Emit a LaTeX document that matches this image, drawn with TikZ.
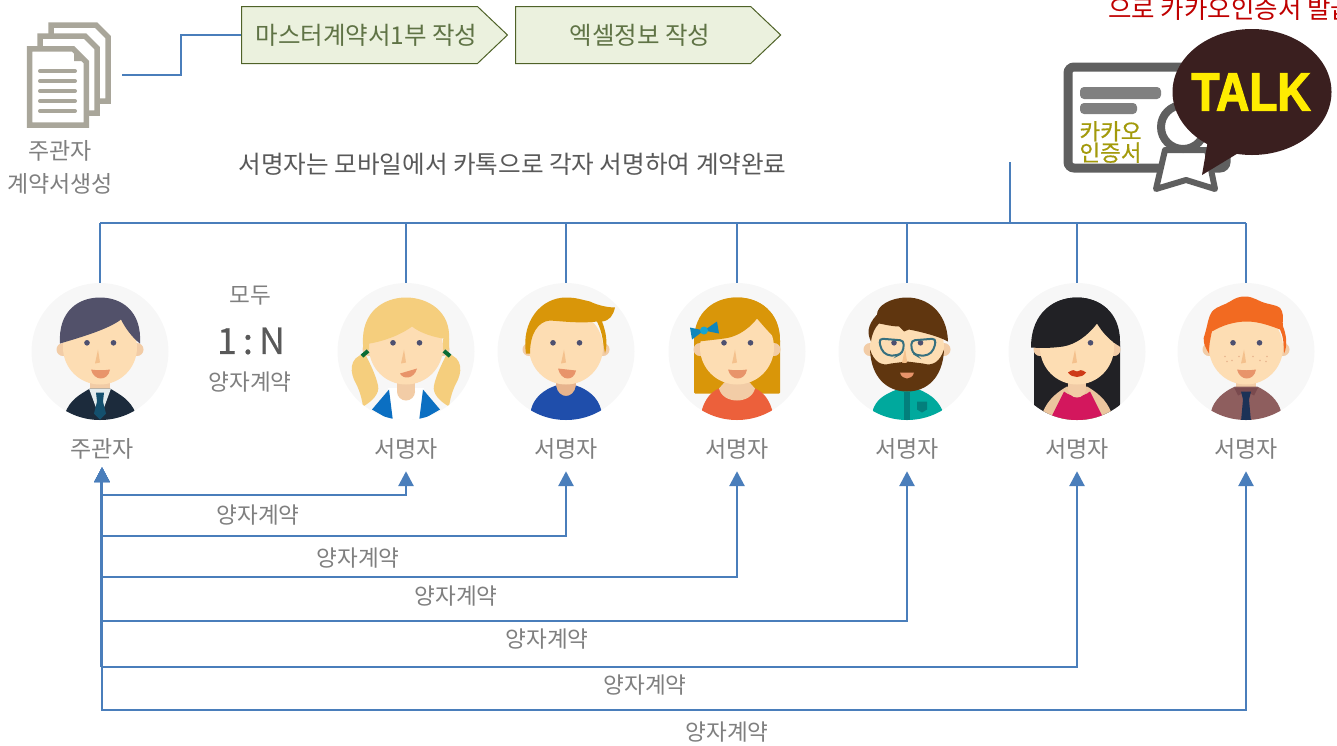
\documentclass[tikz,border=0pt]{standalone}
\usepackage{fontspec}
\setmainfont{Noto Sans CJK KR}
\newfontfamily\talkfont[FakeBold=2.5]{Liberation Sans Bold}
\newfontfamily\certfont[FakeBold=0.6]{Noto Sans CJK KR}
\newfontfamily\ratiofont[FakeBold=0.5]{Noto Sans CJK KR}
\usepackage{graphicx}
\usetikzlibrary{shapes.geometric}
\usetikzlibrary{shapes.symbols}
\usetikzlibrary{arrows.meta}
\usetikzlibrary{positioning}

\definecolor{wireblue}{HTML}{4A7EBB}
\definecolor{greytxt}{HTML}{7F7F7F}
\definecolor{darktxt}{HTML}{595959}
\definecolor{stepfill}{HTML}{EBF1DE}
\definecolor{stepline}{HTML}{4F6228}
\definecolor{steptxt}{HTML}{5F7345}
\definecolor{docgrey}{HTML}{A9A69A}
\definecolor{certgrey}{HTML}{5F5F5F}
\definecolor{certtxtc}{HTML}{A39A0B}
\definecolor{talkbrown}{HTML}{3A1F1F}
\definecolor{talkyellow}{HTML}{FFEC00}
\definecolor{skin}{HTML}{FDDDB3}
\definecolor{skindark}{HTML}{F2CCA6}
\definecolor{skinneck}{HTML}{E7B48D}
\definecolor{skinbare}{HTML}{EBC59E}
\definecolor{mouthc}{HTML}{E8946A}
\definecolor{eyec}{HTML}{4D5070}
\definecolor{suitc}{HTML}{1C2B3C}
\definecolor{shirtc}{HTML}{E4ECEE}
\definecolor{tiec}{HTML}{14506E}
\definecolor{hostHair}{HTML}{52516A}
\definecolor{blondc}{HTML}{F5CE7D}
\definecolor{collarc}{HTML}{0B6FC2}
\definecolor{bandc}{HTML}{0B6B35}
\definecolor{amberc}{HTML}{D99609}
\definecolor{navyc}{HTML}{1F4EAB}
\definecolor{coralc}{HTML}{EC603B}
\definecolor{bowc}{HTML}{0F86BB}
\definecolor{bowmid}{HTML}{16A5D2}
\definecolor{tealc}{HTML}{00A99D}
\definecolor{tealdark}{HTML}{037F7C}
\definecolor{beardc}{HTML}{60360F}
\definecolor{glassc}{HTML}{36707F}
\definecolor{blackhair}{HTML}{212125}
\definecolor{dressc}{HTML}{D3175D}
\definecolor{lipc}{HTML}{CE3A17}
\definecolor{mauvec}{HTML}{8E5E5E}
\definecolor{mauvedark}{HTML}{7A4A4E}
\definecolor{tienavy}{HTML}{1C3257}
\definecolor{frecklec}{HTML}{E8B48E}
\definecolor{redhair}{HTML}{F26A21}

\newcommand{\facebase}{
  \fill[skindark] (-37,-2) circle (6.5);
  \fill[skindark] (37,-2) circle (6.5);
  \fill[skin] (0,-4) circle (37);
  \fill[eyec] (-13,-8.7) circle (2.8);
  \fill[eyec] (13.5,-8.7) circle (2.8);
  \fill[skindark!85!orange] (-2,-2) -- (-5,12) -- (0,11) -- cycle;
}
\newcommand{\mouthopen}{
  \fill[mouthc] (-9,18) .. controls (-3,19) and (4,19) .. (10,18) .. controls (8,30) and (-6,30) .. (-9,18) -- cycle;
}

\begin{document}
\begin{tikzpicture} [
    x=1pt, y=-1pt,
    wire/.style     = { draw=wireblue, line width=2pt },
    link/.style     = { draw=wireblue, line width=2.8pt,
                        {Triangle[length=15pt,width=15pt]}-{Triangle[length=15pt,width=15pt]} },
    stepbox/.style  = { signal, signal to=east, signal pointer angle=87,
                        draw=stepline, line width=1pt, fill=stepfill, text=steptxt,
                        minimum width=265pt, minimum height=57pt, inner sep=0pt,
                        execute at begin node={\hspace*{14pt}},
                        font=\fontsize{24.5}{28}\selectfont },
    avatar/.style   = { circle, fill=black!3, minimum size=137pt, inner sep=0pt },
    who/.style      = { text=greytxt, minimum height=44pt, inner sep=0pt,
                        font=\fontsize{23}{26}\selectfont },
    deal/.style     = { text=greytxt, inner sep=0pt, font=\fontsize{22.6}{26}\selectfont },
    docpage/.style  = { draw=docgrey, line width=5.5pt, fill=white, line join=miter },
    docline/.style  = { draw=docgrey, line width=4pt, line cap=round },
  ]
\useasboundingbox (0,0) rectangle (1337,745);

% document stack
\draw [docpage] (51,46) -- (51,25) -- (96,25) -- (108,37) -- (108,101) -- (90,101);
\draw [docpage] (40,60) -- (40,36) -- (85,36) -- (97,48) -- (97,113) -- (80,113);
\draw [docpage] (29.5,48.8) -- (73,48.8) -- (86.3,62) -- (86.3,125) -- (29.5,125) -- cycle;
\fill [docgrey] (74,49) -- (74,61) -- (86,61) -- cycle;
\foreach \ypos in {71,81,91,101,111}
  \draw [docline] (40,\ypos) -- (75,\ypos);
\coordinate (docout) at (122,75);
\node [deal, font=\fontsize{23}{26}\selectfont] (doctop) at (60,151) {주관자};
\node [deal, font=\fontsize{23}{26}\selectfont] (docbot) at (60,184) {계약서생성};

% process steps
\node [stepbox, anchor=west] (draft) at (241,35) {마스터계약서1부 작성};
\node [stepbox, right=7pt of draft] (excel) {엑셀정보 작성};
\draw [wire] (docout) --++ (59,0) |- (draft.west);

\node [text=darktxt, inner sep=0pt, font=\fontsize{24.6}{28}\selectfont] (note) at (512.5,164)
  {서명자는 모바일에서 카톡으로 각자 서명하여 계약완료};
\node [text=red!75!black, inner sep=0pt, anchor=west, font=\fontsize{25.5}{28}\selectfont] (issue) at (1108,9)
  {으로 카카오인증서 발급};

% certificate
\draw [draw=certgrey, line width=9pt, rounded corners=6pt, fill=white] (1068,67) rectangle (1226,168);
\fill [black!50, rounded corners=4pt] (1080,87) rectangle (1161,99);
\fill [black!50, rounded corners=4pt] (1080,103) rectangle (1137,114);
\node [text=certtxtc, inner sep=0pt, align=center,
       font=\fontsize{22.5}{20}\certfont] (certtxt) at (1110.5,142) {카카오\\인증서};
\draw [draw=certgrey, line width=6pt, line join=round, fill=white]
  (1165,150) -- (1156,189) -- (1186,180) -- (1215,189) -- (1207,150) -- cycle;
\draw [draw=certgrey, line width=8pt, fill=white] (1183,127) circle (22);
\coordinate (certout) at (1010,162);

% kakao bubble
\fill [talkbrown] (1208,140) -- (1202,175) -- (1240,152) -- cycle;
\node [ellipse, fill=talkbrown, minimum width=159pt, minimum height=126pt, inner sep=0pt] (talk) at (1252,92) {};
\node [text=talkyellow, inner sep=0pt] (talktxt) at (1251,92)
  {\scalebox{1}[1.17]{\fontsize{46}{46}\talkfont TALK}};

% people
\foreach \who/\xpos in {host/100,sign1/406,sign2/566,sign3/737,sign4/907,sign5/1077,sign6/1246}
  \node [avatar] (\who) at (\xpos,351.5) {};
\node [who] (host-txt) at (102,449) {주관자};
\foreach \who/\xpos in {sign1/406,sign2/566,sign3/737,sign4/907,sign5/1077,sign6/1246}
  \node [who] (\who-txt) at (\xpos,449) {서명자};
\coordinate (hosttip) at ([yshift=4pt]host-txt.south);

\begin{scope}[shift={(host)}]
  \clip (0,0) circle (68.5);
  \fill[skindark] (-10,28) rectangle (10,42);
  \fill[suitc] (-35,62) .. controls (-30,48) and (-20,43) .. (-10,37) -- (10,37) .. controls (20,43) and (30,48) .. (36,62) -- (36,70) -- (-35,70) -- cycle;
  \fill[shirtc] (-11,37) -- (11,37) -- (0,67) -- cycle;
  \fill[tiec] (-4,41) -- (4,41) -- (3,50) -- (6,62) -- (0,68) -- (-6,62) -- (-3,50) -- cycle;
  \facebase \mouthopen
  \fill[hostHair] (-40,-8) .. controls (-42,-40) and (-22,-54) .. (0,-54) .. controls (22,-54) and (42,-40) .. (40,-8) .. controls (32,-14) and (25,-24) .. (21,-32) .. controls (8,-22) and (-20,-14) .. (-40,-8) -- cycle;
\end{scope}

\begin{scope}[shift={(sign1)}]
  \clip (0,0) circle (68.5);
  \fill[white] (-18,36) rectangle (18,70);
  \fill[collarc] (-34,58) -- (-17,38) -- (-13,70) -- cycle;
  \fill[collarc] (34,58) -- (17,38) -- (13,70) -- cycle;
  \fill[blondc] (-41,2) .. controls (-58,6) and (-56,22) .. (-50,32) .. controls (-46,40) and (-44,48) .. (-43,55) .. controls (-34,50) and (-26,42) .. (-28,34) .. controls (-30,24) and (-36,12) .. (-41,2) -- cycle;
  \fill[blondc] (41,2) .. controls (58,6) and (56,22) .. (50,32) .. controls (46,40) and (44,48) .. (43,55) .. controls (34,50) and (26,42) .. (28,34) .. controls (30,24) and (36,12) .. (41,2) -- cycle;
  \fill[skindark] (-9,28) rectangle (9,40);
  \fill[skindark] (0,40) circle (9);
  \facebase
  \fill[mouthc] (-6,22) -- (11,17) .. controls (8,28) and (-3,28) .. (-6,22) -- cycle;
  \fill[blondc] (-43,-7) .. controls (-45,-40) and (-22,-54) .. (0,-54) .. controls (22,-54) and (45,-40) .. (43,-12) .. controls (28,-14) and (15,-18) .. (6,-25) .. controls (-6,-16) and (-25,-9) .. (-43,-7) -- cycle;
  \fill[blondc] (-43,-8) rectangle (-37,-2) (37,-13) rectangle (43,-2);
  \fill[bandc, rotate around={40:(-41,2)}] (-45,0) rectangle (-37,4);
  \fill[bandc, rotate around={-40:(41,2)}] (37,0) rectangle (45,4);
\end{scope}

\begin{scope}[shift={(sign2)}]
  \clip (0,0) circle (68.5);
  \fill[skinneck] (-10,28) rectangle (10,38);
  \fill[skinneck] (0,38) circle (10);
  \fill[navyc] (-35,58) .. controls (-32,46) and (-22,38) .. (-10,34) .. controls (-8,48) and (8,48) .. (10,34) .. controls (22,38) and (32,46) .. (35,58) -- (35,70) -- (-35,70) -- cycle;
  \facebase
  \fill[mouthc] (-8,17) -- (10,19) .. controls (8,30) and (-5,30) .. (-8,17) -- cycle;
  \fill[amberc] (-36,2) -- (-40,2) .. controls (-45,-30) and (-25,-54) .. (0,-54) .. controls (10,-54) and (15,-52) .. (24,-50) .. controls (32,-46) and (42,-44) .. (49,-44) .. controls (47,-36) and (44,-31) .. (36,-30) .. controls (40,-20) and (42,-8) .. (39,2) .. controls (37,-8) and (37,-18) .. (31,-30) .. controls (15,-28) and (-2,-30) .. (-16,-31) .. controls (-28,-30) and (-36,-18) .. (-36,2) -- cycle;
\end{scope}

\begin{scope}[shift={(sign3)}]
  \clip (0,0) circle (68.5);
  \fill[amberc, rounded corners=1pt] (-43,42) -- (-43,-10) .. controls (-43,-40) and (-22,-54) .. (0,-54) .. controls (22,-54) and (43,-40) .. (43,-10) -- (43,42) -- cycle;
  \fill[coralc] (-35,58) .. controls (-32,48) and (-26,40) .. (-18,37) -- (18,37) .. controls (26,40) and (32,48) .. (35,58) -- (35,70) -- (-35,70) -- cycle;
  \fill[skindark] (-18,37) .. controls (-14,53) and (14,53) .. (18,37) -- (10,28) -- (-10,28) -- cycle;
  \facebase \mouthopen
  \fill[amberc] (-38,-10) -- (-42,-18) .. controls (-36,-42) and (-18,-54) .. (0,-54) .. controls (22,-54) and (43,-40) .. (43,-10) .. controls (35,-15) and (27,-25) .. (20,-33) .. controls (10,-20) and (-3,-14) .. (-13,-13) .. controls (-20,-12) and (-30,-11) .. (-38,-10) -- cycle;
  \fill[bowc] (-33,-21) -- (-47,-24) -- (-45,-12) -- cycle;
  \fill[bowc] (-33,-21) -- (-20,-30) -- (-18,-18) -- cycle;
  \fill[bowmid] (-33,-21) circle (4);
\end{scope}

\begin{scope}[shift={(sign4)}]
  \clip (0,0) circle (68.5);
  \fill[tealc] (-34,58) .. controls (-31,50) and (-26,44) .. (-10,38) -- (12,38) .. controls (26,44) and (31,50) .. (35,58) -- (35,70) -- (-34,70) -- cycle;
  \fill[tealdark] (-3,40) rectangle (3,70);
  \fill[tealdark] (10,50) -- (20,50) -- (20,58) -- (15,61) -- (10,58) -- cycle;
  \facebase
  \fill[beardc] (-37,-2) .. controls (-36,26) and (-20,40) .. (0,40) .. controls (20,40) and (36,26) .. (37,-2) .. controls (33,10) and (26,15) .. (16,12) -- (0,10) -- (-16,12) .. controls (-26,15) and (-33,10) .. (-37,-2) -- cycle;
  \fill[skindark!85!orange] (-2,-2) -- (-5,12) -- (0,11) -- cycle;
  \fill[mouthc] (-7,21) -- (7,21) .. controls (5,29) and (-5,29) .. (-7,21) -- cycle;
  \fill[beardc] (-16,18) .. controls (-12,10) and (-4,10) .. (0,13) .. controls (4,10) and (12,10) .. (17,18) .. controls (8,22) and (3,20) .. (0,20) .. controls (-3,20) and (-8,22) .. (-16,18) -- cycle;
  \fill[beardc] (-36,-10) .. controls (-40,-18) and (-40,-26) .. (-30,-37) .. controls (-30,-46) and (-16,-54) .. (0,-54) .. controls (20,-54) and (40,-40) .. (41,-10) .. controls (30,-16) and (12,-20) .. (2,-22) -- (-3,-20) -- (-8,-25) .. controls (-15,-25) and (-22,-27) .. (-28,-28) .. controls (-32,-24) and (-35,-18) .. (-36,-10) -- cycle;
  \draw[glassc, line width=2pt, rounded corners=4pt] (-28,-13) -- (-3,-11) -- (-4,1) -- (-10,4) -- (-20,4) -- (-26,-2) -- cycle;
  \draw[glassc, line width=2pt, rounded corners=4pt] (29,-13) -- (4,-11) -- (5,1) -- (10,4) -- (21,4) -- (27,-2) -- cycle;
\end{scope}

\begin{scope}[shift={(sign5)}]
  \clip (0,0) circle (68.5);
  \fill[blackhair] (-43,70) -- (-43,-10) .. controls (-43,-40) and (-22,-54) .. (0,-54) .. controls (22,-54) and (43,-40) .. (43,-10) -- (43,70) -- cycle;
  \fill[skinbare] (-36,66) .. controls (-32,52) and (-24,43) .. (-10,35) -- (10,35) .. controls (24,43) and (32,52) .. (36,66) -- (36,70) -- (-36,70) -- cycle;
  \fill[dressc] (-26,66) -- (-13,40) .. controls (-6,46) and (6,46) .. (13,40) -- (26,66) -- (26,70) -- (-26,70) -- cycle;
  \fill[skindark] (-9,28) rectangle (9,38);
  \fill[skindark] (0,37) circle (9);
  \facebase
  \fill[lipc] (-9,21) .. controls (-5,18) and (-2,18) .. (0,20) .. controls (2,18) and (5,18) .. (9,21) .. controls (5,27) and (-5,27) .. (-9,21) -- cycle;
  \fill[blackhair] (-46,-4) .. controls (-46,-40) and (-22,-54) .. (0,-54) .. controls (22,-54) and (43,-40) .. (43,-5) .. controls (34,-10) and (26,-18) .. (20,-28) .. controls (10,-15) and (-2,-7) .. (-14,-5) .. controls (-22,-4) and (-30,-3) .. (-46,-4) -- cycle;
\end{scope}

\begin{scope}[shift={(sign6)}]
  \clip (0,0) circle (68.5);
  \fill[skindark] (-10,28) rectangle (10,40);
  \fill[mauvec] (-35,60) .. controls (-32,48) and (-22,40) .. (-11,35) -- (11,35) .. controls (22,40) and (32,48) .. (35,60) -- (35,70) -- (-35,70) -- cycle;
  \fill[mauvedark] (-12,36) -- (12,36) -- (8,44) -- (0,40) -- (-8,44) -- cycle;
  \fill[tienavy] (-5,40) -- (5,40) -- (3,48) -- (5,70) -- (-5,70) -- (-3,48) -- cycle;
  \facebase \mouthopen
  \foreach \fx/\fy in {-21/5,-7/5,-14/9,21/5,7/5,14/9,-19/10,20/10}
    \fill[frecklec] (\fx,\fy) circle (0.8);
  \fill[redhair] (-37,2) .. controls (-42,-6) and (-44,-12) .. (-41,-18) .. controls (-38,-28) and (-38,-34) .. (-34,-40) .. controls (-28,-46) and (-22,-46) .. (-16,-50) .. controls (-10,-54) and (-6,-55) .. (-1,-55) .. controls (8,-55) and (12,-50) .. (21,-48) .. controls (28,-46) and (35,-46) .. (36,-40) .. controls (38,-35) and (36,-30) .. (37,-25) .. controls (40,-18) and (42,-6) .. (38,2) .. controls (38,-8) and (37,-16) .. (34,-22) .. controls (24,-26) and (12,-30) .. (1,-30) .. controls (-12,-30) and (-24,-26) .. (-34,-20) .. controls (-36,-12) and (-37,-6) .. (-37,2) -- cycle;
\end{scope}

\node [deal] (all) at (250,296) {모두};
\node [text=darktxt, inner sep=0pt, font=\fontsize{36}{40}\ratiofont] (ratio) at (251,341) {1\,:\,N};
\node [deal] (pair) at (250,382) {양자계약};

% top bus
\draw [wire] (certout) -- (certout |- 0,223);
\draw [wire] (host.north |- 0,223) -- (sign6.north |- 0,223);
\foreach \who in {host,sign1,sign2,sign3,sign4,sign5,sign6}
  \draw [wire] (\who.north) -- (\who.north |- 0,223);

% contracts
\foreach \who/\lev/\labx/\laby in {sign1/495/258/515,sign2/536/358/558,sign3/577/456/596,sign4/621/547/639,sign5/667/645/685,sign6/710/727/732} {
  \draw [link] (hosttip) -- (hosttip |- 0,\lev) -- (\who-txt.south |- 0,\lev) -- (\who-txt.south);
  \node [deal] (deal-\who) at (\labx,\laby) {양자계약};
}
\draw [draw=wireblue, line width=3.5pt] ([xshift=-0.5pt,yshift=-12pt]hosttip) -- ([xshift=-0.5pt]hosttip |- 0,667);

\end{tikzpicture}
\end{document}
